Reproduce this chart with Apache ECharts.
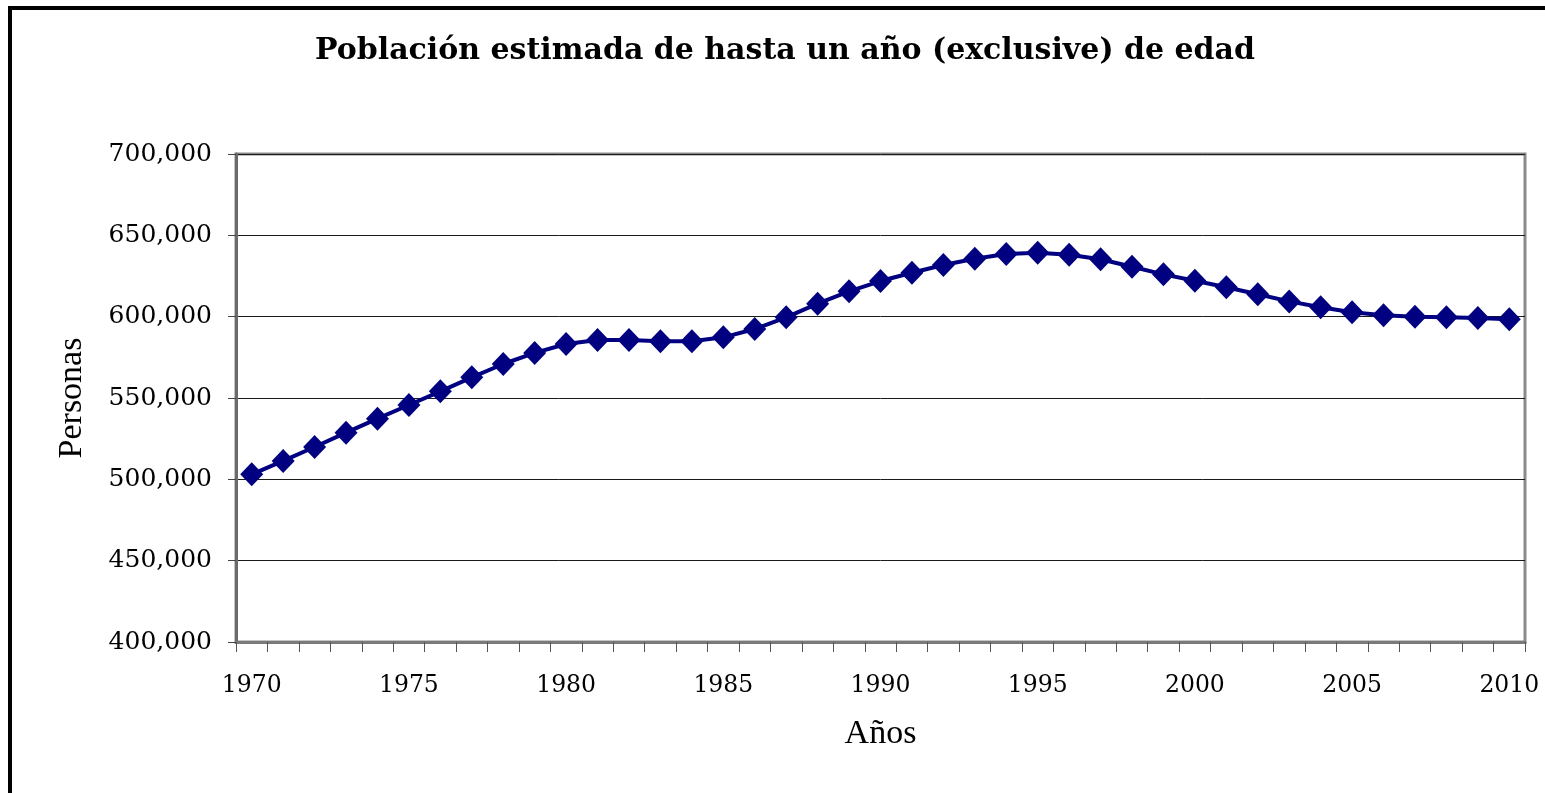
<!DOCTYPE html>
<html>
<head>
<meta charset="utf-8">
<script src="https://cdn.jsdelivr.net/npm/echarts@6/dist/echarts.min.js"></script>
<style>
html,body{margin:0;padding:0;background:#fff;}
#chart{width:1545px;height:793px;}
</style>
</head>
<body>
<div id="chart"></div>
<script>
const titleText = 'Población estimada de hasta un año (exclusive) de edad';
const xName = 'Años';
const yName = 'Personas';
const years = ['1970','1971','1972','1973','1974','1975','1976','1977','1978','1979',
  '1980','1981','1982','1983','1984','1985','1986','1987','1988','1989',
  '1990','1991','1992','1993','1994','1995','1996','1997','1998','1999',
  '2000','2001','2002','2003','2004','2005','2006','2007','2008','2009','2010'];
const population = [503100, 511300, 519900, 528700, 537300, 545700, 554100, 562700, 570900, 577700,
  583200, 585700, 585700, 584900, 584900, 587300, 592400, 599600, 608000, 615600,
  621900, 627000, 631800, 635600, 638500, 639300, 638100, 635300, 630700, 626000,
  622100, 618100, 613800, 609400, 605800, 602700, 600800, 600000, 599600, 599200, 598400];
const yMin = 400000, yMax = 700000, yStep = 50000;

const chart = echarts.init(document.getElementById('chart'), null, {renderer: 'canvas'});
const serif = '"DejaVu Serif", "Liberation Serif", serif';
chart.setOption({
  backgroundColor: '#ffffff',
  animation: false,
  title: {
    text: titleText,
    left: 785,
    top: 36,
    textAlign: 'center',
    padding: 0,
    textStyle: {fontFamily: serif, fontWeight: 'bold', fontSize: 30, color: '#000'}
  },
  graphic: [{
    type: 'rect',
    shape: {x: 10, y: 8, width: 1600, height: 900},
    style: {fill: null, stroke: '#000', lineWidth: 4},
    silent: true
  }],
  grid: {
    left: 236, right: 20, top: 154, bottom: 151,
    show: true, borderColor: '#8a8a8a', borderWidth: 3, backgroundColor: 'transparent'
  },
  xAxis: {
    type: 'category',
    data: years,
    boundaryGap: true,
    name: xName,
    nameLocation: 'middle',
    nameGap: 75,
    nameTextStyle: {fontFamily: '"Liberation Serif", serif', fontSize: 34, color: '#000'},
    axisLine: {show: true, lineStyle: {color: '#7a7a7a', width: 3}},
    axisTick: {show: true, interval: 0, alignWithLabel: false, length: 10, lineStyle: {color: '#555', width: 1}},
    axisLabel: {interval: 4, margin: 32, fontFamily: serif, fontSize: 23.5, color: '#000'},
    splitLine: {show: false}
  },
  yAxis: {
    type: 'value',
    min: yMin, max: yMax, interval: yStep,
    name: yName,
    nameLocation: 'middle',
    nameGap: 147,
    nameRotate: 90,
    nameTextStyle: {fontFamily: '"Liberation Serif", serif', fontSize: 34, color: '#000'},
    axisLine: {show: true, lineStyle: {color: '#6a6a6a', width: 3}},
    axisTick: {show: true, length: 8, lineStyle: {color: '#444', width: 1}},
    axisLabel: {
      margin: 24, fontFamily: serif, fontSize: 25, color: '#000',
      formatter: v => v.toLocaleString('en-US')
    },
    splitLine: {show: true, lineStyle: {color: '#1a1a1a', width: 1}}
  },
  series: [{
    type: 'line',
    data: population,
    symbol: 'diamond',
    symbolSize: [23, 24],
    showSymbol: true,
    showAllSymbol: true,
    lineStyle: {color: '#000080', width: 4},
    itemStyle: {color: '#000080'},
    z: 5
  }]
});
</script>
</body>
</html>
